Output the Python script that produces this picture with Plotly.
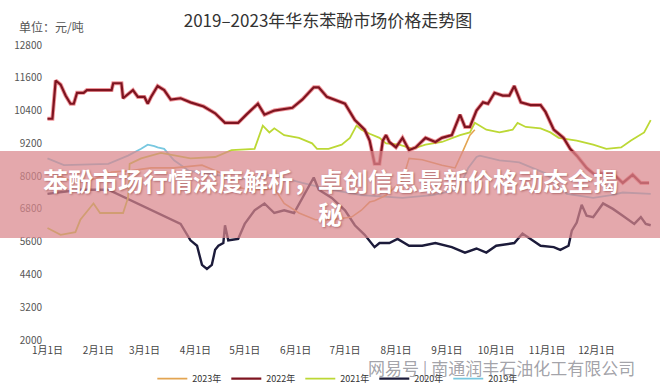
import plotly.graph_objects as go

# ---------------- data (day of year, price yuan/ton) ----------------
days_2023 = [0, 8, 17, 29, 39, 51, 63, 77, 94, 106, 114, 124, 132, 138, 144, 153, 163, 173, 185,
             191, 196, 199, 206, 216, 220, 228, 240, 248, 253, 257, 260]
vals_2023 = [7850, 8000, 7750, 7900, 8150, 8200, 8300, 8300, 8400, 8100, 7600, 7500, 7500, 7550, 7000,
             6650, 6400, 6400, 6500, 6750, 7050, 7100, 7300, 7850, 8650, 8600, 8400, 8300, 8950, 9500, 9700]

days_2022 = [0, 3, 5, 8, 11, 14, 16, 18, 22, 24, 39, 40, 45, 46, 52, 55, 59, 61, 63, 67, 71, 75, 81, 87,
             95, 102, 108, 116, 121, 128, 132, 138, 149, 155, 162, 165, 170, 181, 187, 193, 196, 199,
             202, 204, 206, 208, 212, 216, 220, 224, 230, 236, 240, 246, 251, 254, 257, 261, 265, 268,
             272, 277, 281, 284, 288, 294, 300, 303, 308, 314, 318, 322, 328, 333, 343, 350, 356, 361, 366]
vals_2022 = [10100, 10100, 11500, 11350, 10950, 10650, 10650, 11050, 11050, 11150, 11150, 11400, 11400,
             10850, 11150, 10900, 10900, 10650, 10900, 11300, 11150, 10800, 10850, 10700, 10550, 10300,
             9950, 9950, 10250, 10650, 10250, 10400, 10500, 10800, 11250, 11250, 10900, 10650, 10050,
             9700, 9300, 8450, 8450, 9300, 9500, 9250, 9050, 9400, 8950, 9050, 9400, 9250, 9400, 9500,
             10250, 9800, 9800, 10400, 10700, 10650, 11050, 10950, 10950, 11300, 10700, 10600, 10600,
             10350, 9700, 9400, 9000, 8750, 8300, 8050, 8150, 7750, 8050, 7750, 7750]

days_2021 = [0, 8, 17, 20, 26, 28, 32, 46, 49, 50, 57, 69, 87, 102, 112, 126, 131, 135, 138, 144, 153,
             161, 164, 171, 179, 184, 188, 191, 196, 202, 206, 214, 222, 230, 240, 251, 257, 260, 267,
             275, 283, 286, 291, 300, 306, 311, 322, 332, 340, 349, 355, 363, 367]
vals_2021 = [6100, 5850, 5950, 6400, 6850, 7000, 6650, 6650, 7200, 8450, 8650, 8850, 8650, 8700, 8950,
             9000, 9850, 9600, 9750, 9500, 9400, 9200, 9000, 9000, 9150, 9400, 9850, 9700, 9550, 9400,
             9200, 9150, 9000, 9150, 9250, 9500, 9600, 9950, 9700, 9600, 9700, 9950, 9800, 9750, 9600,
             9400, 9300, 9150, 9000, 9050, 9300, 9600, 10050]

days_2020 = [0, 8, 20, 37, 51, 67, 81, 87, 91, 94, 97, 100, 102, 104, 107, 108, 110, 116, 120, 126, 132,
             138, 144, 150, 158, 162, 165, 173, 181, 187, 193, 199, 202, 208, 213, 220, 228, 236, 246,
             254, 261, 267, 273, 284, 289, 295, 300, 308, 312, 317, 319, 322, 325, 328, 332, 338, 344,
             350, 357, 361, 364, 367]
vals_2020 = [7350, 7400, 7500, 7500, 7100, 6650, 6250, 5650, 5450, 4750, 4600, 4750, 5300, 5450, 5550,
             6200, 5650, 5700, 6250, 6750, 7000, 6650, 6750, 6650, 7500, 7950, 7500, 7200, 6750, 6200,
             5850, 5400, 5550, 5550, 5700, 5450, 5450, 5550, 5400, 5200, 5350, 5200, 5450, 5550, 5900,
             5650, 5450, 5400, 5300, 5450, 6000, 6300, 6950, 6550, 6500, 7000, 6800, 6550, 6250, 6500,
             6250, 6200]

days_2019 = [0, 10, 37, 49, 57, 61, 65, 67, 71, 77, 86, 103, 118, 136, 155, 173, 191, 216, 234, 250,
             256, 261, 263, 275, 287, 303, 316, 332, 343, 350, 367]
vals_2019 = [8650, 8400, 8450, 8750, 9000, 9150, 9100, 9050, 9000, 8580, 8200, 8050, 7900, 8050, 7750,
             7500, 7300, 7200, 7300, 7500, 8300, 8700, 8750, 8580, 8500, 8100, 7350, 7200, 7300, 7400, 7350]

month_days = [0, 31, 59, 90, 120, 151, 181, 212, 243, 273, 304, 334]
month_labels = ["1月1日", "2月1日", "3月1日", "4月1日", "5月1日", "6月1日",
                "7月1日", "8月1日", "9月1日", "10月1日", "11月1日", "12月1日"]
y_ticks = [2000, 3200, 4400, 5600, 6800, 8000, 9200, 10400, 11600, 12800]
y_labels = ["2000", "3200", "4400", "5600", "6800", "8000", "9200", "10400", "11600", "12800"]

FONT = "Noto Sans CJK SC"

fig = go.Figure()

# draw order: 2019, 2020, 2023, 2021, 2022 ; legend order via legendrank
fig.add_trace(go.Scatter(x=days_2019, y=vals_2019, mode="lines", name="2019年",
                         line=dict(color="#78C8E0", width=1.8), legendrank=5))
fig.add_trace(go.Scatter(x=days_2020, y=vals_2020, mode="lines", name="2020年",
                         line=dict(color="#1C1B3A", width=2.4), legendrank=4))
fig.add_trace(go.Scatter(x=days_2023, y=vals_2023, mode="lines", name="2023年",
                         line=dict(color="#E3A552", width=1.6), legendrank=1))
fig.add_trace(go.Scatter(x=days_2021, y=vals_2021, mode="lines", name="2021年",
                         line=dict(color="#BCD835", width=1.8), legendrank=3))
fig.add_trace(go.Scatter(x=days_2022, y=vals_2022, mode="lines", showlegend=False, hoverinfo="skip",
                         line=dict(color="rgba(225,60,70,0.55)", width=4)))
fig.add_trace(go.Scatter(x=days_2022, y=vals_2022, mode="lines", name="2022年",
                         line=dict(color="#7E1420", width=2.2), legendrank=2))

fig.update_layout(
    width=660, height=391,
    margin=dict(l=45, r=6, t=45, b=51, autoexpand=False),
    paper_bgcolor="white", plot_bgcolor="white",
    font=dict(family=FONT, color="#444", size=10),
    title=dict(text="2019–2023年华东苯酚市场价格走势图", x=0.497, xanchor="center",
               y=0.947, yanchor="middle", font=dict(size=17, color="#333", family=FONT)),
    xaxis=dict(range=[-1.5, 369], tickvals=month_days, ticktext=month_labels,
               showgrid=False, zeroline=False, showline=False, ticks="",
               tickfont=dict(size=10, color="#444"), ticklabelstandoff=3),
    yaxis=dict(range=[2000, 12800], tickvals=y_ticks, ticktext=y_labels, showgrid=False,
               zeroline=False, showline=False, ticks="", tickfont=dict(size=10, color="#555"),
               ticklabelstandoff=2),
    legend=dict(orientation="h", x=0.48, xanchor="center", y=-0.131, yanchor="middle",
                font=dict(size=9, color="#333"), bgcolor="rgba(0,0,0,0)",
                itemwidth=30, tracegroupgap=0),
    showlegend=True,
)

# unit label
fig.add_annotation(text="单位：元/吨", xref="paper", yref="paper", x=-0.046, y=1.064,
                   xanchor="left", yanchor="middle", showarrow=False,
                   font=dict(size=12, color="#555", family=FONT))

# watermark
fig.add_annotation(text="网易号 | 南通润丰石油化工有限公司", xref="paper", yref="paper",
                   x=0.749, y=-0.092, xanchor="center", yanchor="middle", showarrow=False,
                   font=dict(size=17, color="rgba(110,110,120,0.65)", family=FONT))

# pink banner overlay
fig.add_shape(type="rect", xref="paper", yref="paper", x0=-0.1, x1=1.1, y0=0.3458, y1=0.6407,
              fillcolor="rgba(218,135,140,0.72)", line=dict(width=0), layer="above")

fig.add_annotation(text="苯酚市场行情深度解析，卓创信息最新价格动态全揭<br>秘",
                   xref="paper", yref="paper", x=0.468, y=0.488, xanchor="center", yanchor="middle",
                   showarrow=False, align="center",
                   font=dict(size=25, color="white", family=FONT, weight="bold",
                             shadow="1px 1px 2px rgba(120,40,40,0.45)"))

fig.write_html("out.html", config={"displayModeBar": False},
               post_script="document.body.style.margin='0';")
